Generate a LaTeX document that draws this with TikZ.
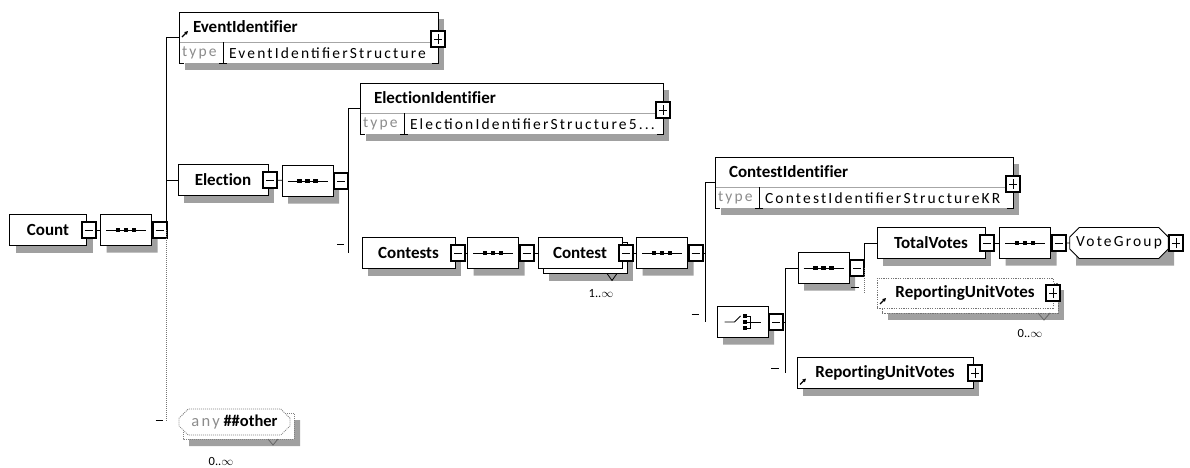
\documentclass[tikz,border=0pt]{standalone}
\usepackage{fontspec}
\setmainfont{Carlito}[Ligatures=NoCommon]
\newfontfamily\spacedfont[LetterSpace=14]{Carlito}
\usetikzlibrary{positioning, arrows.meta, shapes.misc}
\definecolor{shadowgray}{RGB}{160,160,160}
\pgfdeclarelayer{bg}
\pgfsetlayers{bg,main}

% typed element: name, centre, width, title, type
\newcommand{\typedbox}[5]{%
  \node[typebox, minimum width=#3pt] (#1) at (#2) {};
  \draw[sepline] ([yshift=-30pt]#1.north west) -- ([yshift=-30pt]#1.north east);
  \draw[boxline] ([xshift=5pt]#1.south west) -- (#1.south west) -- (#1.north west)
    -- (#1.north east) -- (#1.south east) -- ([xshift=-6pt]#1.south east);
  \draw[boxline] ([xshift=44pt,yshift=-30pt]#1.north west) -- ([xshift=44pt]#1.south west);
  \draw[boxline] ([xshift=40pt]#1.south west) -- ([xshift=48pt]#1.south west);
  \node[titletext, anchor=west] at ([xshift=14pt,yshift=-15pt]#1.north west) {#4};
  \node[typetext, anchor=west, text=black!45] at ([xshift=3pt,yshift=-41pt]#1.north west) {type};
  \node[typetext, anchor=west] at ([xshift=50pt,yshift=-41pt]#1.north west) {#5};
  \node[plusbtn] (#1btn) at ([yshift=-27pt]#1.north east) {};
}

\begin{document}
\begin{tikzpicture}[x=1pt, y=-1pt,
    every node/.style={inner sep=0pt, outer sep=0pt},
    shadowfill/.style={fill=shadowgray},
    boxline/.style={draw=black, line width=0.8pt},
    sepline/.style={draw=black!35, line width=0.8pt},
    elem/.style={rectangle, draw=black, line width=0.8pt, fill=white, minimum height=31pt, font=\fontsize{17}{19}\selectfont\bfseries},
    optelem/.style={elem, draw=black!55, dash pattern=on 1.2pt off 1.2pt},
    typebox/.style={rectangle, fill=white, minimum height=51pt},
    titletext/.style={font=\fontsize{17}{19}\selectfont\bfseries},
    typetext/.style={font=\fontsize{15.5}{17}\spacedfont},
    occurs/.style={font=\fontsize{12.5}{14}\selectfont},
    octa/.style={chamfered rectangle, chamfered rectangle xsep=8pt, draw=black, line width=0.8pt, fill=white, minimum width=51pt, minimum height=31pt},
    anyoct/.style={octa, chamfered rectangle xsep=6pt, minimum width=111pt, minimum height=26pt, draw=black!50, dash pattern=on 1pt off 1pt},
    seqoct/.style={octa, path picture={
        \draw[line width=0.8pt] ([xshift=-20pt]path picture bounding box.center) -- ([xshift=20pt]path picture bounding box.center);
        \foreach \dx in {-8,0,8}
          \fill[black] ([xshift=\dx pt]path picture bounding box.center) +(-2.4pt,-2.4pt) rectangle +(2.4pt,2.4pt);}},
    choiceoct/.style={octa, path picture={
        \coordinate (c) at (path picture bounding box.center);
        \draw[line width=0.8pt] ([xshift=-18pt]c) -- ([xshift=-8pt]c) -- ([xshift=-2pt,yshift=6pt]c);
        \foreach \dy in {-6,0,6}
          \fill[black] ([xshift=2pt,yshift=\dy pt]c) +(-2pt,-2pt) rectangle +(2pt,2pt);
        \draw[line width=0.8pt] ([xshift=4pt,yshift=6pt]c) -- ([xshift=8pt,yshift=6pt]c) -- ([xshift=8pt,yshift=-6pt]c) -- ([xshift=4pt,yshift=-6pt]c)
          ([xshift=4pt]c) -- ([xshift=18pt]c);}},
    btn/.style={rectangle, draw=black, line width=2pt, fill=white, minimum width=14pt, minimum height=16pt},
    minusbtn/.style={btn, path picture={\draw[line width=0.9pt] ([xshift=3pt]path picture bounding box.west) -- ([xshift=-3pt]path picture bounding box.east);}},
    plusbtn/.style={btn, path picture={\draw[line width=0.9pt] ([xshift=3pt]path picture bounding box.west) -- ([xshift=-3pt]path picture bounding box.east)
        ([yshift=3pt]path picture bounding box.south) -- ([yshift=-3pt]path picture bounding box.north);}},
    conn/.style={draw=black, line width=0.8pt},
    dotconn/.style={draw=black!55, line width=0.8pt, dash pattern=on 1pt off 1pt},
    refarrow/.style={-{Triangle[length=3.5pt, width=3.5pt]}, line width=1.3pt},
    notch/.style={draw=black!60, line width=0.8pt}
  ]
  \useasboundingbox (0,0) rectangle (1190,467);

  % Count and its sequence
  \node[elem, minimum width=77pt] (count) at (48,230) {Count};
  \node[minusbtn] (countbtn) at ([xshift=2pt]count.east) {};
  \node[seqoct] (seqcount) at (126,230) {};
  \node[minusbtn, right=1pt of seqcount] (seqcountbtn) {};

  % EventIdentifier
  \typedbox{eventid}{308.5,37.5}{259}{EventIdentifier}{EventIdentifierStructure}
  \draw[refarrow] ([xshift=3pt,yshift=-25pt]eventid.north west) -- ++(6pt,6pt);

  % Election
  \node[elem, minimum width=90pt] (election) at (223,180) {Election};
  \node[minusbtn] (electionbtn) at ([xshift=2pt]election.east) {};
  \node[seqoct] (seqelection) at (307.5,181) {};
  \node[minusbtn, right=1pt of seqelection] (seqelectionbtn) {};

  % any ##other
  \node[anyoct] (anybk) at (238.5,426) {};
  \node[anyoct, font=\fontsize{16.5}{18}\selectfont] (any) at (234.5,422) {{\spacedfont\color{black!45}any}\ \textbf{\#\#other}};
  \draw[notch] ([xshift=-26pt]anybk.south east) -- ++(5pt,-6pt) -- ++(5pt,6pt);
  \node[occurs] at (221,461) {0..$\infty$};

  % ElectionIdentifier
  \typedbox{electionid}{511.5,108.5}{303}{ElectionIdentifier}{ElectionIdentifierStructure5...}

  % Contests and Contest
  \node[elem, minimum width=93pt] (contests) at (408.5,253) {Contests};
  \node[minusbtn] (contestsbtn) at ([xshift=3pt]contests.east) {};
  \node[seqoct] (seqcontests) at (493,253) {};
  \node[minusbtn, right=1pt of seqcontests] (seqcontestsbtn) {};
  \node[elem, minimum width=84pt] (contestbk) at (585,258) {};
  \node[elem, minimum width=84pt] (contest) at (580,253) {Contest};
  \node[minusbtn] (contestbtn) at ([xshift=4pt]contest.east) {};
  \draw[notch, draw=black] ([xshift=-20pt]contestbk.south east) -- ++(5pt,-7pt) -- ++(5pt,7pt);
  \node[occurs] at (601,294) {1..$\infty$};
  \node[seqoct] (seqcontest) at (662,253) {};
  \node[minusbtn, right=1pt of seqcontest] (seqcontestbtn) {};

  % ContestIdentifier
  \typedbox{contestid}{864,182.5}{298}{ContestIdentifier}{ContestIdentifierStructureKR}

  % choice
  \node[choiceoct] (choice) at (742.5,322) {};
  \node[minusbtn, right=1pt of choice] (choicebtn) {};

  % TotalVotes branch
  \node[seqoct] (seqchoice) at (823.5,268) {};
  \node[minusbtn, right=1pt of seqchoice] (seqchoicebtn) {};
  \node[elem, minimum width=108pt] (totalvotes) at (931,243) {TotalVotes};
  \node[minusbtn] (totalvotesbtn) at ([xshift=2pt]totalvotes.east) {};
  \node[seqoct] (seqtotal) at (1025,243) {};
  \node[minusbtn, right=1pt of seqtotal] (seqtotalbtn) {};
  \node[octa, minimum width=98pt, font=\fontsize{15.5}{17}\spacedfont] (votegroup) at (1119,243) {VoteGroup};
  \node[plusbtn, right=1pt of votegroup] (votegroupbtn) {};

  % ReportingUnitVotes (optional, repeated)
  \node[optelem, minimum width=176pt, minimum height=30pt] (ruvupbk) at (970,298) {};
  \node[optelem, minimum width=176pt, minimum height=30pt] (ruvup) at (965,293) {ReportingUnitVotes};
  \node[plusbtn] (ruvupbtn) at (ruvup.east) {};
  \draw[refarrow] ([xshift=3pt,yshift=4pt]ruvup.south west) -- ++(6pt,6pt);
  \draw[notch] ([xshift=-20pt]ruvupbk.south east) -- ++(6pt,-7pt) -- ++(6pt,7pt);
  \node[occurs] at (1030,333) {0..$\infty$};

  % ReportingUnitVotes
  \node[elem, minimum width=176pt] (ruvlow) at (885,373) {ReportingUnitVotes};
  \node[plusbtn] (ruvlowbtn) at ([xshift=2pt]ruvlow.east) {};
  \draw[refarrow] ([xshift=3pt,yshift=4pt]ruvlow.south west) -- ++(6pt,6pt);

  % shadows
  \begin{pgfonlayer}{bg}
    \foreach \n in {count, election, contests, contestbk, totalvotes, ruvupbk, ruvlow, eventid, electionid, contestid}
      \path[shadowfill] ([xshift=6pt,yshift=-7pt]\n.south west) rectangle ([xshift=6pt,yshift=-7pt]\n.north east);
    \foreach \n in {seqcount, seqelection, seqcontests, seqcontest, choice, seqchoice, seqtotal}
      \node[octa, draw=none, shadowfill] (\n sh) at ([xshift=6pt,yshift=-7pt]\n.center) {};
    \node[octa, draw=none, shadowfill, minimum width=98pt] (votegroupsh) at ([xshift=6pt,yshift=-7pt]votegroup.center) {};
    \node[anyoct, draw=none, shadowfill] (anysh) at ([xshift=6pt,yshift=-7pt]anybk.center) {};
  \end{pgfonlayer}

  % sequence chains
  \draw[conn] (countbtn) -- (seqcount);
  \draw[conn] (electionbtn) -- (seqelection);
  \draw[conn] (contestsbtn) -- (seqcontests);
  \draw[conn] (seqcontestsbtn) -- (contest);
  \draw[conn] (contestbtn) -- (seqcontest);
  \draw[conn] (totalvotesbtn) -- (seqtotal);
  \draw[conn] (seqtotalbtn) -- (votegroup);

  % bus lines
  \coordinate[right=3pt of seqcontestbtn] (contestbus);
  \coordinate[right=2pt of choicebtn] (choicebus);
  \draw[conn] (eventid.west) -| (seqcountbtn.east);
  \draw[conn] (election.west) -| (seqcountbtn.east);
  \draw[dotconn] (seqcountbtn.east) -- (seqcountbtn.east |- any.west);
  \draw[conn] (seqcountbtn.east |- any.west) ++(-11,-2) -- ++(7,0);
  \draw[conn] (electionid.west) -| (seqelectionbtn.east);
  \draw[conn] (seqelectionbtn.east) -- (seqelectionbtn.east |- contests.west);
  \draw[conn] (seqelectionbtn.east |- contests.west) ++(-11,-9) -- ++(7,0);
  \draw[conn] (contestid.west) -| (contestbus) -- (seqcontestbtn.east);
  \draw[conn] (contestbus) -- (contestbus |- choice.west);
  \draw[conn] (contestbus |- choice.west) ++(-14,-8) -- ++(7,0);
  \draw[conn] (seqchoice.west) -| (choicebus) -- (choicebtn.east);
  \draw[conn] (choicebus) -- (choicebus |- ruvlow.west);
  \draw[conn] (choicebus |- ruvlow.west) ++(-14,-5) -- ++(8,0);
  \draw[conn] (totalvotes.west) -| (seqchoicebtn.east);
  \draw[dotconn] (seqchoicebtn.east) -- (seqchoicebtn.east |- ruvup.west);
  \draw[conn] (seqchoicebtn.east |- ruvup.west) ++(-13,-6) -- ++(8,0);

\end{tikzpicture}
\end{document}
